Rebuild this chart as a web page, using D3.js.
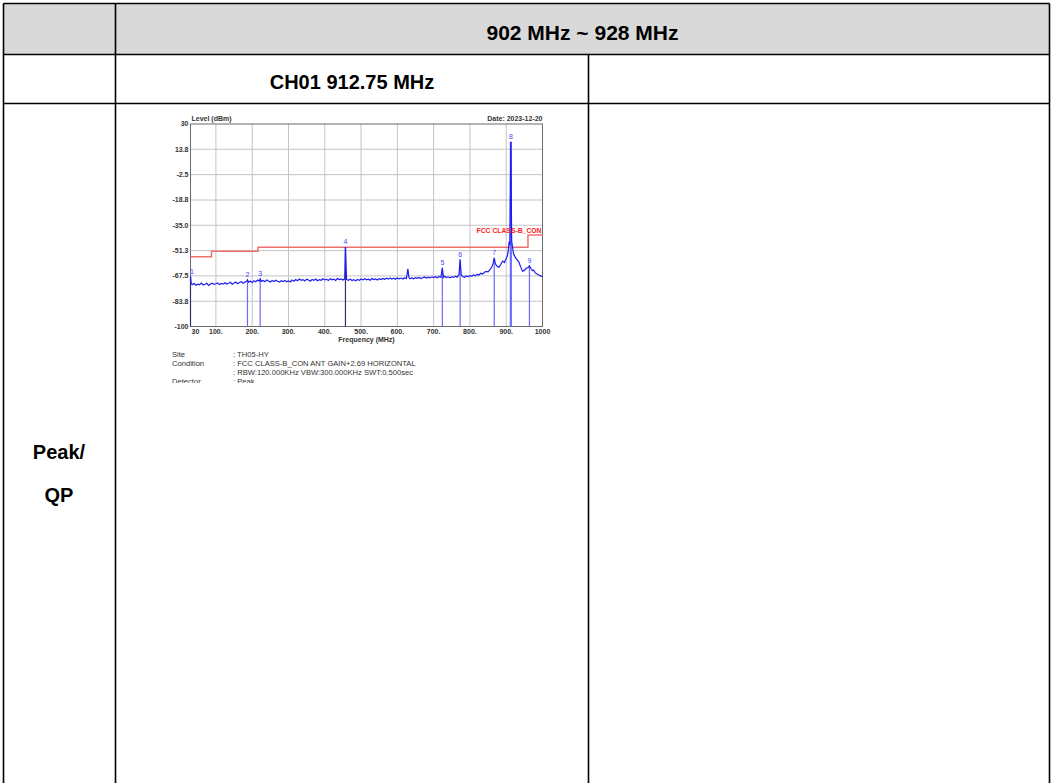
<!DOCTYPE html>
<html><head><meta charset="utf-8">
<script src="https://cdn.jsdelivr.net/npm/d3@7"></script>
<style>html,body{margin:0;padding:0;background:#fff;}svg{display:block;}</style>
</head><body>
<svg id="c" width="1051" height="783"></svg>
<script>
// ---------- data ----------
const headerTitle = "902 MHz ~ 928 MHz";
const channelTitle = "CH01 912.75 MHz";
const rowLabel = ["Peak/", "QP"];

const yTicks = [30, 13.8, -2.5, -18.8, -35.0, -51.3, -67.5, -83.8, -100];
const yTickLabels = ["30", "13.8", "-2.5", "-18.8", "-35.0", "-51.3", "-67.5", "-83.8", "-100"];
const xTicks = [30, 100, 200, 300, 400, 500, 600, 700, 800, 900, 1000];
const xTickLabels = ["30", "100.", "200.", "300.", "400.", "500.", "600.", "700.", "800.", "900.", "1000"];

const traceFreq = [30,32,35,40,45,50,55,60,65,70,75,80,85,90,95,100,
 105,110,115,120,125,130,135,140,145,150,155,160,165,170,175,180,185,187,190,195,200,
 205,210,215,220,222,225,230,235,240,245,250,255,260,265,270,275,280,285,290,295,300,
 305,310,315,320,325,330,335,340,345,350,355,360,365,370,375,380,385,390,395,400,
 405,410,415,420,425,430,435,440,445,450,455,457,460,465,470,475,480,485,490,495,500,
 505,510,515,520,525,530,535,540,545,550,555,560,565,570,575,580,585,590,595,600,
 605,610,615,620,625,629,632,635,640,645,650,655,660,665,670,675,680,685,690,695,700,
 705,710,715,720,724,727,730,735,740,745,750,755,760,765,770,773,776,780,785,790,795,800,
 805,810,815,820,825,830,835,840,845,850,855,860,864,867,870,875,880,885,890,895,900,
 903,906,908,910,912.75,915,917,920,925,930,935,940,945,950,955,960,964,968,972,976,980,985,990,995,1000];
const traceLevel = [-67.8,-72.5,-73.1,-72.4,-73.5,-72.8,-73.2,-72.1,-73.4,-72.9,-72.3,-73.6,-72.7,-72.2,-73.0,-72.6,
 -72.0,-73.1,-72.4,-72.8,-71.9,-72.7,-72.2,-71.6,-72.9,-72.1,-71.4,-72.5,-71.8,-71.2,-72.3,-71.5,-70.9,-70.0,-71.6,-70.8,-71.9,
 -70.6,-71.3,-70.2,-70.9,-69.5,-71.0,-70.4,-71.2,-70.1,-70.8,-71.4,-70.5,-71.1,-70.3,-71.0,-71.5,-70.6,-71.2,-70.4,-71.3,-70.7,
 -71.4,-70.2,-70.9,-69.8,-70.6,-69.5,-70.3,-69.9,-70.8,-69.6,-70.2,-70.9,-69.8,-70.4,-69.5,-70.6,-69.9,-70.3,-69.4,-70.1,
 -69.7,-70.5,-69.3,-70.0,-69.6,-70.4,-69.2,-69.9,-69.5,-70.2,-69.4,-48.9,-69.8,-70.3,-69.6,-70.5,-69.9,-70.7,-69.8,-70.4,-69.5,
 -70.1,-69.3,-70.0,-69.6,-70.3,-69.2,-69.9,-69.4,-70.1,-69.3,-69.8,-69.1,-69.7,-69.0,-69.6,-68.9,-69.5,-69.0,-69.7,-68.8,
 -69.4,-68.9,-69.5,-68.7,-69.2,-63.0,-68.6,-69.3,-68.8,-69.4,-68.6,-69.1,-68.5,-69.2,-68.7,-68.2,-68.9,-68.3,-68.8,-68.1,-68.6,
 -68.0,-68.7,-67.9,-68.4,-62.4,-68.5,-67.8,-68.6,-68.1,-68.8,-68.0,-68.5,-67.7,-68.3,-66.5,-57.0,-66.8,-67.9,-68.4,-67.6,-68.1,-67.3,
 -67.8,-66.9,-67.4,-66.5,-66.9,-65.8,-66.3,-65.2,-64.6,-64.9,-63.5,-61.8,-59.5,-55.9,-59.8,-61.4,-62.0,-60.2,-58.0,-58.9,-56.4,
 -54.8,-51.0,-45.5,-47.8,18.6,-44.8,-48.5,-53.2,-55.6,-57.1,-58.6,-61.9,-64.5,-64.0,-62.6,-62.2,-61.0,-62.8,-64.1,-63.8,-65.6,-66.3,-66.9,-67.5,-68.0];

const limitFreq = [30, 88, 88, 216, 216, 960, 960, 1000];
const limitLevel = [-55.2, -55.2, -51.7, -51.7, -49.2, -49.2, -41.2, -41.2];
const limitName = "FCC CLASS-B_CON";

const markerId = ["1", "2", "3", "4", "5", "6", "7", "8", "9"];
const markerFreq = [30, 187, 222, 457, 724, 773, 867, 912.75, 964];
const markerLevel = [-67.8, -70.0, -69.5, -48.9, -62.4, -57.0, -55.9, 18.6, -61.0];

const infoKeys = ["Site", "Condition", "", "Detector"];
const infoValues = [": TH05-HY", ": FCC CLASS-B_CON ANT GAIN+2.69 HORIZONTAL",
  ": RBW:120.000KHz VBW:300.000KHz SWT:0.500sec", ": Peak"];
const yAxisTitle = "Level (dBm)";
const xAxisTitle = "Frequency (MHz)";
const dateText = "Date: 2023-12-20";

// ---------- drawing ----------
const svg = d3.select("#c");
const FONT = "'Liberation Sans', Arial, sans-serif";
svg.append("rect").attr("width", 1051).attr("height", 783).attr("fill", "#fff");

// table
const colX = [3.5, 115.5, 588.5, 1049.5];
const rowY = [3.5, 54.5, 103.5, 783];
svg.append("rect").attr("x", colX[0]).attr("y", rowY[0]).attr("width", colX[3]-colX[0]).attr("height", rowY[1]-rowY[0]).attr("fill", "#d9d9d9");
const tbl = svg.append("g").attr("stroke", "#000").attr("stroke-width", 1.6);
[rowY[0], rowY[1], rowY[2]].forEach(y => tbl.append("line").attr("x1", colX[0]).attr("x2", colX[3]).attr("y1", y).attr("y2", y));
tbl.append("line").attr("x1", colX[0]).attr("x2", colX[0]).attr("y1", rowY[0]).attr("y2", rowY[3]);
tbl.append("line").attr("x1", colX[1]).attr("x2", colX[1]).attr("y1", rowY[0]).attr("y2", rowY[3]);
tbl.append("line").attr("x1", colX[2]).attr("x2", colX[2]).attr("y1", rowY[1]).attr("y2", rowY[3]);
tbl.append("line").attr("x1", colX[3]).attr("x2", colX[3]).attr("y1", rowY[0]).attr("y2", rowY[3]);

const big = {"font-family": FONT, "font-weight": "bold", "font-size": "20px", "fill": "#000", "text-anchor": "middle"};
function styl(sel, o){ for (const k in o) sel.attr(k, o[k]); return sel; }
styl(svg.append("text").attr("x", (colX[1]+colX[3])/2).attr("y", 40).text(headerTitle), big).attr("font-size", "21px");
styl(svg.append("text").attr("x", (colX[1]+colX[2])/2).attr("y", 89).text(channelTitle), big);
styl(svg.append("text").attr("x", 59).attr("y", 459).text(rowLabel[0]), big);
styl(svg.append("text").attr("x", 59).attr("y", 502).text(rowLabel[1]), big);

// chart
const x = d3.scaleLinear().domain([30, 1000]).range([190.5, 542.5]);
const y = d3.scaleLinear().domain([-100, 30]).range([326.5, 124]);

const chart = svg.append("g");
const defs = svg.append("defs");
defs.append("clipPath").attr("id", "imgclip").append("rect").attr("x", 120).attr("y", 105).attr("width", 450).attr("height", 278);
defs.append("clipPath").attr("id", "plotclip").append("rect").attr("x", 189).attr("y", 110).attr("width", 356).attr("height", 218);
chart.attr("clip-path", "url(#imgclip)");

// grid
const grid = chart.append("g");
grid.selectAll("line.gy").data(yTicks.slice(1, -1)).join("line")
  .attr("x1", x(30)).attr("x2", x(1000)).attr("y1", d => y(d)).attr("y2", d => y(d))
  .attr("stroke", "#c4c4c4").attr("stroke-width", 1);
grid.selectAll("line.gx").data(xTicks.slice(1, -1)).join("line")
  .attr("y1", y(30)).attr("y2", y(-100)).attr("x1", d => x(d)).attr("x2", d => x(d))
  .attr("stroke", "#c4c4c4").attr("stroke-width", 1);

// frame
chart.append("rect").attr("x", x(30)).attr("y", y(30)).attr("width", x(1000)-x(30)).attr("height", y(-100)-y(30))
  .attr("fill", "none").attr("stroke", "#6a6a6a").attr("stroke-width", 1);

const plot = chart.append("g").attr("clip-path", "url(#plotclip)");
// limit line
const limitData = limitFreq.map((f, i) => [f, limitLevel[i]]);
plot.append("path").datum(limitData)
  .attr("d", d3.line().x(d => x(d[0])).y(d => y(d[1])))
  .attr("fill", "none").attr("stroke", "#f07070").attr("stroke-width", 1.5);

// marker lines
const markers = markerId.map((m, i) => ({id: m, f: markerFreq[i], v: markerLevel[i]}));
plot.selectAll("line.mk").data(markers).join("line")
  .attr("x1", d => x(d.f)).attr("x2", d => x(d.f))
  .attr("y1", y(-100)).attr("y2", d => y(d.v))
  .attr("stroke", d => (d.id === "1" || d.id === "4") ? "#30306a" : "#6b6bff")
  .attr("stroke-width", d => d.id === "8" ? 2.2 : 1.2);

// trace
const traceData = traceFreq.map((f, i) => [f, traceLevel[i]]);
plot.append("path").datum(traceData)
  .attr("d", d3.line().x(d => x(d[0])).y(d => y(d[1])))
  .attr("fill", "none").attr("stroke", "#1c1cf0").attr("stroke-width", 1.2);

// marker labels
chart.selectAll("text.mk").data(markers).join("text")
  .attr("x", d => d.id === "1" ? x(d.f) + 1.5 : x(d.f)).attr("y", d => y(d.v) - 2.5)
  .attr("text-anchor", "middle").attr("font-family", FONT).attr("font-size", "7px")
  .attr("fill", "#4646ff").text(d => d.id);

// limit label
chart.append("text").attr("x", x(1000) - 1).attr("y", y(-41.2) - 2)
  .attr("text-anchor", "end").attr("font-family", FONT).attr("font-size", "6.8px").attr("font-weight", "bold")
  .attr("fill", "#ff2020").text(limitName);

// axis labels
const small = {"font-family": FONT, "font-weight": "bold", "font-size": "7px", "fill": "#333"};
yTicks.forEach((t, i) => {
  styl(chart.append("text").attr("x", x(30) - 2).attr("y", y(t) + 2.4).attr("text-anchor", "end").text(yTickLabels[i]), small);
});
xTicks.forEach((t, i) => {
  const anchor = i === 0 ? "start" : "middle";
  styl(chart.append("text").attr("x", i === 0 ? x(t) + 1 : x(t)).attr("y", y(-100) + 7).attr("text-anchor", anchor).text(xTickLabels[i]), small);
});
styl(chart.append("text").attr("x", x(30) + 1).attr("y", y(30) - 3).attr("text-anchor", "start").text(yAxisTitle), small);
styl(chart.append("text").attr("x", x(1000)).attr("y", y(30) - 3).attr("text-anchor", "end").text(dateText), small);
styl(chart.append("text").attr("x", (x(30) + x(1000)) / 2).attr("y", y(-100) + 15).attr("text-anchor", "middle").text(xAxisTitle), small);

// info block
infoKeys.forEach((k, i) => {
  chart.append("text").attr("x", 172).attr("y", 356.5 + i * 9).attr("font-family", FONT).attr("font-size", "7.6px").attr("fill", "#333").text(k);
  chart.append("text").attr("x", 233).attr("y", 356.5 + i * 9).attr("font-family", FONT).attr("font-size", "7.6px").attr("fill", "#333").text(infoValues[i]);
});
</script>
</body></html>
